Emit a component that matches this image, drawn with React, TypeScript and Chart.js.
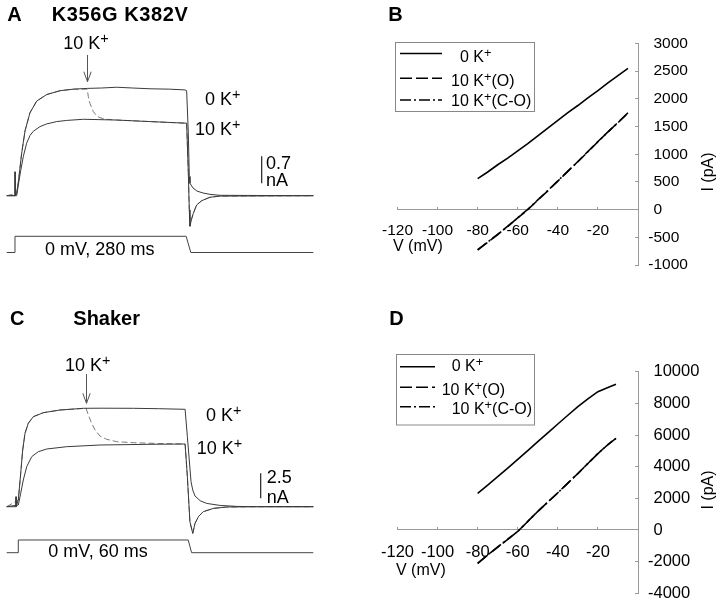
import React, { useEffect, useRef } from 'react';
import { Chart, registerables } from 'chart.js';

Chart.register(...registerables);

const FONT = '"Liberation Sans", Arial, Helvetica, sans-serif';
const TRACE = '#3a3a3a';
const AXIS = '#9a9a9a';

// ---------- Panel A: K356G K382V, step to 0 mV for 280 ms (time in ms, current in nA)
const A_T_0K = [-13.4, 0, 0.05, 0.3, 2.7, 5.4, 10.8, 16.2, 24.2, 35, 51.2, 72.7, 94.2, 116.8, 140, 164.3, 190, 218, 250, 274.6, 277.3, 280, 281.6, 282.7, 287.6, 294, 303.7, 315, 331, 482];
const A_I_0K = [0, 0, 0.62, 0, 0.06, 0.35, 1.1, 1.68, 2.15, 2.45, 2.62, 2.72, 2.76, 2.78, 2.79, 2.81, 2.79, 2.77, 2.76, 2.74, 2.72, 1.62, 0.5, 0.32, 0.2, 0.12, 0.07, 0.035, 0.01, 0];
const A_T_10K = [-13.4, 2.7, 5.4, 9.2, 13.5, 18.8, 24.2, 29.6, 40.4, 51.2, 67.3, 83.5, 110.4, 164.3, 218, 274.6, 277.3, 280, 281.6, 282.7, 285, 288, 293.5, 301.6, 315, 331, 482];
const A_I_10K = [0, 0, 0.28, 0.65, 1.02, 1.36, 1.56, 1.67, 1.79, 1.86, 1.92, 1.95, 1.98, 1.96, 1.92, 1.88, 1.88, 0.6, -0.37, -0.79, -0.62, -0.46, -0.24, -0.13, -0.04, -0.01, 0];
const A_T_SW = [-13.4, 2.7, 5.4, 10.8, 16.2, 24.2, 35, 51.2, 72.7, 94.2, 116.8, 118.4, 121.1, 126.5, 131.9, 137.3, 148, 164.3, 218, 274.6, 277.3, 280, 281.6, 282.7, 285, 288, 293.5, 301.6, 315, 331, 482];
const A_I_SW = [0, 0.06, 0.35, 1.1, 1.68, 2.15, 2.45, 2.62, 2.72, 2.76, 2.76, 2.57, 2.39, 2.18, 2.07, 2.02, 1.98, 1.96, 1.92, 1.88, 1.88, 0.6, -0.37, -0.79, -0.62, -0.46, -0.24, -0.13, -0.04, -0.01, 0];
const A_VT = [-13.4, 0, 0, 276.5, 284, 482];
const A_VMV = [-80, -80, 0, 0, -80, -80];

// ---------- Panel C: Shaker, step to 0 mV for 60 ms
const C_T_0K = [-3.64, -0.4, -0.35, -0.3, 0.46, 1.31, 2.01, 2.83, 3.99, 5.76, 9.29, 15.19, 23.43, 30, 41.1, 50, 59.4, 60.2, 61.5, 62.1, 62.9, 64.7, 67, 71.7, 77.6, 85, 104.7];
const C_I_0K = [0, 0, 1.0, 0, 0.67, 3.34, 5.67, 7.34, 8.34, 9.0, 9.4, 9.67, 9.84, 9.85, 9.84, 9.8, 9.74, 7.0, 2.5, 1.67, 1.07, 0.6, 0.33, 0.13, 0.03, 0, 0];
const C_T_10K = [-3.64, 0.46, 1.31, 2.23, 3.43, 5.19, 7.53, 10.49, 17.56, 29.3, 47, 59.4, 60.2, 61.1, 62.1, 62.9, 64.1, 65.8, 69.4, 74.1, 85, 104.7];
const C_I_10K = [0, 0.17, 1.34, 2.67, 4.0, 5.0, 5.5, 5.77, 6.0, 6.17, 6.24, 6.27, 3.0, -1.5, -2.67, -1.67, -1.0, -0.5, -0.17, -0.03, 0, 0];
const C_T_SW = [-3.64, 0.46, 1.31, 2.01, 2.83, 3.99, 5.76, 9.29, 15.19, 24.4, 25.2, 26.4, 27.6, 29.3, 31.7, 35.2, 41.1, 50, 59.4, 60.2, 61.1, 62.1, 62.9, 64.1, 65.8, 69.4, 74.1, 85, 104.7];
const C_I_SW = [0, 0.67, 3.34, 5.67, 7.34, 8.34, 9.0, 9.4, 9.67, 9.84, 9.17, 8.34, 7.67, 7.07, 6.74, 6.5, 6.4, 6.32, 6.27, 3.0, -1.5, -2.67, -1.67, -1.0, -0.5, -0.17, -0.03, 0, 0];
const C_VT = [-3.64, 0.46, 0.46, 60.5, 61.7, 104.7];
const C_VMV = [-80, -80, 0, 0, -80, -80];

// ---------- Panel B: I-V, K356G K382V (mV, pA)
const B_V = [-80, -75, -70, -65, -60, -55, -50, -45, -40, -35, -30, -25, -20, -15, -10, -5];
const B_I_0K = [560, 680, 810, 930, 1060, 1190, 1330, 1470, 1610, 1750, 1880, 2020, 2150, 2290, 2420, 2550];
const B_I_O = [-723, -590, -450, -300, -150, 0, 170, 340, 515, 690, 870, 1050, 1230, 1400, 1575, 1750];
const B_I_CO = [-730, -585, -445, -305, -145, 5, 175, 345, 520, 695, 865, 1045, 1225, 1405, 1570, 1745];

// ---------- Panel D: I-V, Shaker (mV, pA)
const D_V = [-80, -75, -70, -65, -60, -55, -50, -45, -40, -35, -30, -25, -20, -15, -11];
const D_I_0K = [2316, 2830, 3368, 3910, 4463, 5020, 5579, 6140, 6695, 7250, 7789, 8290, 8737, 9000, 9210];
const D_I_O = [-2105, -1580, -1080, -590, -90, 540, 1170, 1760, 2350, 2960, 3570, 4200, 4830, 5400, 5790];
const D_I_CO = [-2110, -1575, -1075, -585, -95, 535, 1175, 1765, 2345, 2965, 3565, 4205, 4825, 5395, 5785];

// scale bars and arrows (data units)
const A_BAR = { t: 398.5, i0: 0.32, len: 0.7 };
const C_BAR = { t: 86.1, i0: 0.84, len: 2.5 };
const A_ARROW = { t: 116.3, from: 3.645, to: 2.953 };
const C_ARROW = { t: 24.4, from: 13.27, to: 10.34 };

const SERIES_LABELS = ['0 K+', '10 K+(O)', '10 K+(C-O)'];
const DASH_O = [12, 4];
const DASH_CO = [11, 3, 2, 3];

function pts(xs: number[], ys: number[]) {
  return xs.map((x, i) => ({ x, y: ys[i] }));
}

type TraceCfg = {
  traces: { t: number[]; i: number[]; color: string; dash?: number[] }[];
  volt: { t: number[]; v: number[] };
  bar: { t: number; i0: number; len: number };
  arrow: { t: number; from: number; to: number };
  xr: [number, number];
  yr: [number, number];
  vr: [number, number];
};

function makeTraceChart(canvas: HTMLCanvasElement, p: TraceCfg) {
  const arrowPlugin = {
    id: 'arrowMark',
    afterDatasetsDraw(chart: any) {
      const { ctx } = chart;
      const xs = chart.scales.x;
      const ys = chart.scales.y;
      const px = Math.round(xs.getPixelForValue(p.arrow.t)) + 0.5;
      const y1 = ys.getPixelForValue(p.arrow.from);
      const y2 = ys.getPixelForValue(p.arrow.to);
      ctx.save();
      ctx.strokeStyle = '#555';
      ctx.lineWidth = 1;
      ctx.beginPath();
      ctx.moveTo(px, y1);
      ctx.lineTo(px, y2);
      ctx.moveTo(px - 3.7, y2 - 10);
      ctx.lineTo(px, y2);
      ctx.lineTo(px + 3.7, y2 - 10);
      ctx.stroke();
      ctx.restore();
    },
  };
  return new Chart(canvas, {
    type: 'scatter',
    data: {
      datasets: [
        ...p.traces.map((tr) => ({
          data: pts(tr.t, tr.i),
          yAxisID: 'y',
          showLine: true,
          borderColor: tr.color,
          borderWidth: 1,
          borderDash: tr.dash || [],
          pointRadius: 0,
          tension: 0,
        })),
        {
          data: pts(p.volt.t, p.volt.v),
          yAxisID: 'v',
          showLine: true,
          borderColor: '#444',
          borderWidth: 1,
          pointRadius: 0,
        },
        {
          data: [
            { x: p.bar.t, y: p.bar.i0 },
            { x: p.bar.t, y: p.bar.i0 + p.bar.len },
          ],
          yAxisID: 'y',
          showLine: true,
          borderColor: '#333',
          borderWidth: 1.3,
          pointRadius: 0,
        },
      ] as any,
    },
    options: {
      animation: false,
      responsive: false,
      events: [],
      layout: { padding: 0 },
      plugins: { legend: { display: false }, tooltip: { enabled: false } },
      scales: {
        x: { type: 'linear', display: false, min: p.xr[0], max: p.xr[1] },
        y: { type: 'linear', display: false, min: p.yr[0], max: p.yr[1] },
        v: { type: 'linear', display: false, min: p.vr[0], max: p.vr[1] },
      },
    } as any,
    plugins: [arrowPlugin],
  });
}

type IVCfg = {
  v: number[];
  i0: number[];
  iO: number[];
  iCO: number[];
  yMin: number;
  yMax: number;
  yStep: number;
  padTop: number;
  padBottom: number;
  fontSize: number;
  xPad: number;
};

function makeIVChart(canvas: HTMLCanvasElement, p: IVCfg) {
  const line = (ys: number[], label: string, dash: number[]) => ({
    label,
    data: pts(p.v, ys),
    showLine: true,
    borderColor: '#000',
    borderWidth: 1.6,
    borderDash: dash,
    pointRadius: 0,
    tension: 0,
  });
  const tickFont = { family: FONT, size: p.fontSize };
  // y tick labels: digits left-aligned, minus sign hanging to the left
  const yLabelPlugin = {
    id: 'yTickLabels',
    afterDraw(chart: any) {
      const s = chart.scales.y;
      const ctx = chart.ctx;
      ctx.save();
      ctx.font = `${p.fontSize}px ${FONT}`;
      ctx.fillStyle = '#000';
      ctx.textBaseline = 'middle';
      ctx.textAlign = 'left';
      const minusW = ctx.measureText('-').width;
      s.ticks.forEach((t: any) => {
        const v = t.value;
        const x = s.left + 15.5 - (v < 0 ? minusW : 0);
        ctx.fillText(String(v), x, s.getPixelForValue(v));
      });
      ctx.restore();
    },
  };
  return new Chart(canvas, {
    type: 'scatter',
    data: {
      datasets: [
        line(p.i0, SERIES_LABELS[0], []),
        line(p.iO, SERIES_LABELS[1], DASH_O),
        line(p.iCO, SERIES_LABELS[2], DASH_CO),
      ],
    },
    options: {
      animation: false,
      responsive: false,
      events: [],
      layout: { padding: { left: 37.5, right: 0, top: p.padTop, bottom: p.padBottom } },
      plugins: { legend: { display: false }, tooltip: { enabled: false } },
      scales: {
        x: {
          type: 'linear',
          min: -120,
          max: 0,
          position: { y: 0 },
          border: { display: true, color: AXIS, width: 1 },
          grid: { drawOnChartArea: false, drawTicks: true, tickLength: -3, color: AXIS },
          ticks: {
            stepSize: 20,
            color: '#000',
            font: tickFont,
            padding: p.xPad,
            maxRotation: 0,
            autoSkip: false,
            callback: (val: any) => (Number(val) === 0 ? '' : String(val)),
          },
        },
        y: {
          type: 'linear',
          position: 'right',
          min: p.yMin,
          max: p.yMax,
          border: { display: true, color: AXIS, width: 1 },
          grid: { drawOnChartArea: false, drawTicks: true, tickLength: -3, color: AXIS },
          ticks: {
            stepSize: p.yStep,
            display: false,
            autoSkip: false,
            callback: (val: any) => String(val),
          },
          afterFit: (s: any) => {
            s.width = 82;
          },
        },
      },
    } as any,
    plugins: [yLabelPlugin],
  });
}

const Sup = () => (
  <span style={{ fontSize: '0.8em', position: 'relative', top: '-0.42em' }}>+</span>
);

function T(props: {
  x: number;
  base: number;
  size: number;
  bold?: boolean;
  ls?: number;
  children: React.ReactNode;
}) {
  const top = props.base - 0.8465 * props.size;
  return (
    <div
      style={{
        position: 'absolute',
        left: props.x,
        top,
        fontFamily: FONT,
        fontSize: props.size,
        fontWeight: props.bold ? 'bold' : 'normal',
        letterSpacing: props.ls ? props.ls : 0,
        lineHeight: 1,
        whiteSpace: 'nowrap',
        color: '#000',
      }}
    >
      {props.children}
    </div>
  );
}

function VLabel(props: { cx: number; cy: number; size: number; children: React.ReactNode }) {
  return (
    <div
      style={{
        position: 'absolute',
        left: props.cx,
        top: props.cy,
        transform: 'translate(-50%, -50%) rotate(-90deg)',
        fontFamily: FONT,
        fontSize: props.size,
        lineHeight: 1,
        whiteSpace: 'nowrap',
        color: '#000',
      }}
    >
      {props.children}
    </div>
  );
}

function K(props: { pre: string; post?: string }) {
  return (
    <>
      {props.pre} K<Sup />
      {props.post || ''}
    </>
  );
}

export default function App() {
  const refA = useRef<HTMLCanvasElement>(null);
  const refB = useRef<HTMLCanvasElement>(null);
  const refC = useRef<HTMLCanvasElement>(null);
  const refD = useRef<HTMLCanvasElement>(null);

  useEffect(() => {
    const charts: Chart[] = [];
    if (refA.current) {
      charts.push(
        makeTraceChart(refA.current, {
          traces: [
            { t: A_T_0K, i: A_I_0K, color: TRACE },
            { t: A_T_10K, i: A_I_10K, color: TRACE },
            { t: A_T_SW, i: A_I_SW, color: '#7a7a7a', dash: [6, 3] },
          ],
          volt: { t: A_VT, v: A_VMV },
          bar: A_BAR,
          arrow: A_ARROW,
          xr: [-24.23, 508.9],
          yr: [-2.443, 5.07],
          vr: [-265.2, 1166.9],
        })
      );
    }
    if (refC.current) {
      charts.push(
        makeTraceChart(refC.current, {
          traces: [
            { t: C_T_0K, i: C_I_0K, color: TRACE },
            { t: C_T_10K, i: C_I_10K, color: TRACE },
            { t: C_T_SW, i: C_I_SW, color: '#7a7a7a', dash: [6, 3] },
          ],
          volt: { t: C_VT, v: C_VMV },
          bar: C_BAR,
          arrow: C_ARROW,
          xr: [-6.007, 110.6],
          yr: [-8.33, 20.67],
          vr: [-315, 1511.8],
        })
      );
    }
    if (refB.current) {
      charts.push(
        makeIVChart(refB.current, {
          v: B_V,
          i0: B_I_0K,
          iO: B_I_O,
          iCO: B_I_CO,
          yMin: -1000,
          yMax: 3000,
          yStep: 500,
          padTop: 43.5,
          padBottom: 35,
          fontSize: 15.5,
          xPad: 15,
        })
      );
    }
    if (refD.current) {
      charts.push(
        makeIVChart(refD.current, {
          v: D_V,
          i0: D_I_0K,
          iO: D_I_O,
          iCO: D_I_CO,
          yMin: -4000,
          yMax: 10000,
          yStep: 2000,
          padTop: 71.7,
          padBottom: 8.7,
          fontSize: 16.5,
          xPad: 15.4,
        })
      );
    }
    return () => charts.forEach((c) => c.destroy());
  }, []);

  const cv = (left: number, top: number, w: number, h: number): React.CSSProperties => ({
    position: 'absolute',
    left,
    top,
    width: w,
    height: h,
  });

  return (
    <div
      style={{
        position: 'absolute',
        left: 0,
        top: 0,
        width: 720,
        height: 602,
        overflow: 'hidden',
        background: '#fff',
      }}
    >
      <canvas ref={refA} width={330} height={290} style={cv(0, 0, 330, 290)} />
      <canvas ref={refC} width={330} height={290} style={cv(0, 300, 330, 290)} />
      <canvas ref={refB} width={360} height={300} style={cv(360, 0, 360, 300)} />
      <canvas ref={refD} width={360} height={302} style={cv(360, 300, 360, 302)} />

      {/* legends */}
      <svg
        width={720}
        height={602}
        style={{ position: 'absolute', left: 0, top: 0, pointerEvents: 'none' }}
      >
        <rect x={395.5} y={42.5} width={139} height={69} fill="none" stroke="#888" strokeWidth={1} />
        <line x1={400} y1={53.5} x2={442} y2={53.5} stroke="#000" strokeWidth={1.6} />
        <line x1={400} y1={78.3} x2={442} y2={78.3} stroke="#000" strokeWidth={1.6} strokeDasharray={DASH_O.join(' ')} />
        <line x1={400} y1={100} x2={442} y2={100} stroke="#000" strokeWidth={1.6} strokeDasharray={DASH_CO.join(' ')} />

        <rect x={396.5} y={354.5} width={138} height={70.5} fill="none" stroke="#888" strokeWidth={1} />
        <line x1={400} y1={366.7} x2={435} y2={366.7} stroke="#000" strokeWidth={1.6} />
        <line x1={400} y1={387.3} x2={435} y2={387.3} stroke="#000" strokeWidth={1.6} strokeDasharray={DASH_O.join(' ')} />
        <line x1={400} y1={406.7} x2={435} y2={406.7} stroke="#000" strokeWidth={1.6} strokeDasharray={DASH_CO.join(' ')} />
      </svg>

      {/* panel headings */}
      <T x={7.3} base={20.7} size={20} bold>A</T>
      <T x={51.7} base={20.7} size={20} bold ls={0.6}>K356G K382V</T>
      <T x={388.3} base={20.7} size={20} bold>B</T>
      <T x={10} base={325} size={20} bold>C</T>
      <T x={73.3} base={325} size={20} bold>Shaker</T>
      <T x={389.3} base={325} size={20} bold>D</T>

      {/* panel A annotations */}
      <T x={63.3} base={49.3} size={18}><K pre="10" /></T>
      <T x={205} base={105} size={18}><K pre="0" /></T>
      <T x={195} base={135} size={18}><K pre="10" /></T>
      <T x={266} base={169} size={18}>0.7</T>
      <T x={266} base={186.7} size={18}>nA</T>
      <T x={45} base={255} size={18}>0 mV, 280 ms</T>

      {/* panel C annotations */}
      <T x={65} base={371} size={18}><K pre="10" /></T>
      <T x={206} base={421.7} size={18}><K pre="0" /></T>
      <T x={196.7} base={454} size={18}><K pre="10" /></T>
      <T x={266.7} base={483.3} size={18}>2.5</T>
      <T x={266.7} base={503.3} size={18}>nA</T>
      <T x={48.3} base={557.7} size={18}>0 mV, 60 ms</T>

      {/* panel B labels */}
      <T x={460} base={62.7} size={16}><K pre="0" /></T>
      <T x={451} base={86.7} size={16}><K pre="10" post="(O)" /></T>
      <T x={451} base={106.7} size={16}><K pre="10" post="(C-O)" /></T>
      <T x={393} base={251.7} size={16}>V (mV)</T>
      <VLabel cx={708.3} cy={171.7} size={16}>I (pA)</VLabel>

      {/* panel D labels */}
      <T x={451.7} base={371.5} size={16}><K pre="0" /></T>
      <T x={441.7} base={395.7} size={16}><K pre="10" post="(O)" /></T>
      <T x={451.7} base={414.9} size={16}><K pre="10" post="(C-O)" /></T>
      <T x={396} base={575.7} size={16}>V (mV)</T>
      <VLabel cx={708.3} cy={490} size={16}>I (pA)</VLabel>
    </div>
  );
}
